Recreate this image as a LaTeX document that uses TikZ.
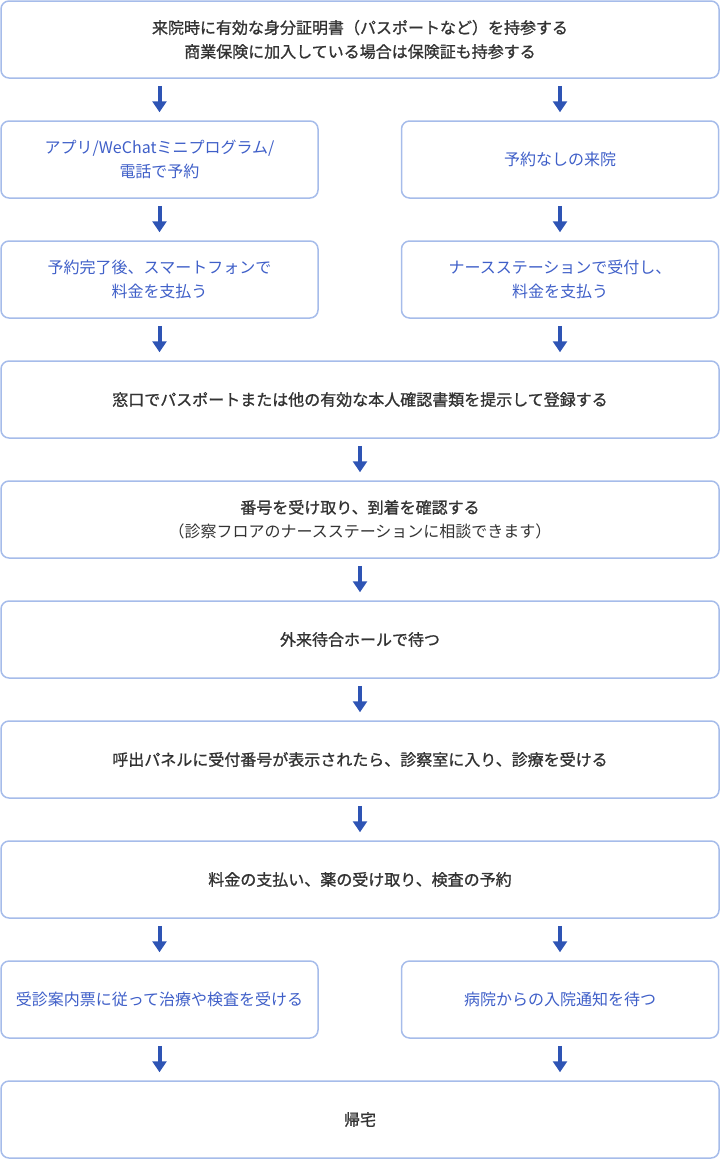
\documentclass[tikz,border=0pt]{standalone}
\usepackage{fontspec}
\setmainfont{Noto Sans CJK JP}
\newfontfamily\jpmed[FakeBold=1.1]{Noto Sans CJK JP}
\usetikzlibrary{positioning,arrows.meta}

\definecolor{boxline}{HTML}{A6BCEA}
\definecolor{flowblue}{HTML}{2E54B4}
\definecolor{halftext}{HTML}{3F5FC8}
\definecolor{maintext}{HTML}{333333}

\begin{document}
\begin{tikzpicture}[
    x=1pt, y=1pt,
    node distance=41.5pt and 82pt,
    wide/.style={rectangle, draw=boxline, line width=1.5pt, rounded corners=8pt, minimum width=718pt, minimum height=77pt, align=center, text=maintext, font=\fontsize{16pt}{24pt}\selectfont\jpmed},
    half/.style={rectangle, draw=boxline, line width=1.5pt, rounded corners=8pt, minimum width=317pt, minimum height=77pt, align=center, text=halftext, font=\fontsize{16pt}{24pt}\selectfont},
    arrow/.style={draw=flowblue, line width=4pt, -{Triangle[width=14pt,length=11pt]}, shorten <=7pt, shorten >=8pt}
]
\useasboundingbox (0,0) rectangle (720,-1160);

% Before the visit
\node[wide] (bring) at (360,-39.5) {来院時に有効な身分証明書（パスポートなど）を持参する\\商業保険に加入している場合は保険証も持参する};

% Two ways in
\node[half, below=of bring.south west, anchor=north west] (reserve) {アプリ/WeChatミニプログラム/\\電話で予約};
\node[half, right=of reserve] (walkin) {予約なしの来院};
\node[half, below=of reserve] (paysmart) {予約完了後、スマートフォンで\\料金を支払う};
\node[half, below=of walkin] (paynurse) {ナースステーションで受付し、\\料金を支払う};

% Main flow
\node[wide, below=of paysmart.south west, anchor=north west] (register) {窓口でパスポートまたは他の有効な本人確認書類を提示して登録する};
\node[wide, below=of register] (number) {番号を受け取り、到着を確認する\\{\mdseries\rmfamily（診察フロアのナースステーションに相談できます）}};
\node[wide, below=of number] (wait) {外来待合ホールで待つ};
\node[wide, below=of wait] (exam) {呼出パネルに受付番号が表示されたら、診察室に入り、診療を受ける};
\node[wide, below=of exam] (payall) {料金の支払い、薬の受け取り、検査の予約};

% After the visit
\node[half, below=of payall.south west, anchor=north west] (guide) {受診案内票に従って治療や検査を受ける};
\node[half, right=of guide] (notice) {病院からの入院通知を待つ};
\node[wide, below=of guide.south west, anchor=north west] (home) {帰宅};

% Arrows
\draw[arrow] (reserve.north |- bring.south) -- (reserve);
\draw[arrow] (walkin.north |- bring.south) -- (walkin);
\draw[arrow] (reserve) -- (paysmart);
\draw[arrow] (walkin) -- (paynurse);
\draw[arrow] (paysmart) -- (paysmart.south |- register.north);
\draw[arrow] (paynurse) -- (paynurse.south |- register.north);
\draw[arrow] (register) -- (number);
\draw[arrow] (number) -- (wait);
\draw[arrow] (wait) -- (exam);
\draw[arrow] (exam) -- (payall);
\draw[arrow] (guide.north |- payall.south) -- (guide);
\draw[arrow] (notice.north |- payall.south) -- (notice);
\draw[arrow] (guide) -- (guide.south |- home.north);
\draw[arrow] (notice) -- (notice.south |- home.north);

\end{tikzpicture}
\end{document}
